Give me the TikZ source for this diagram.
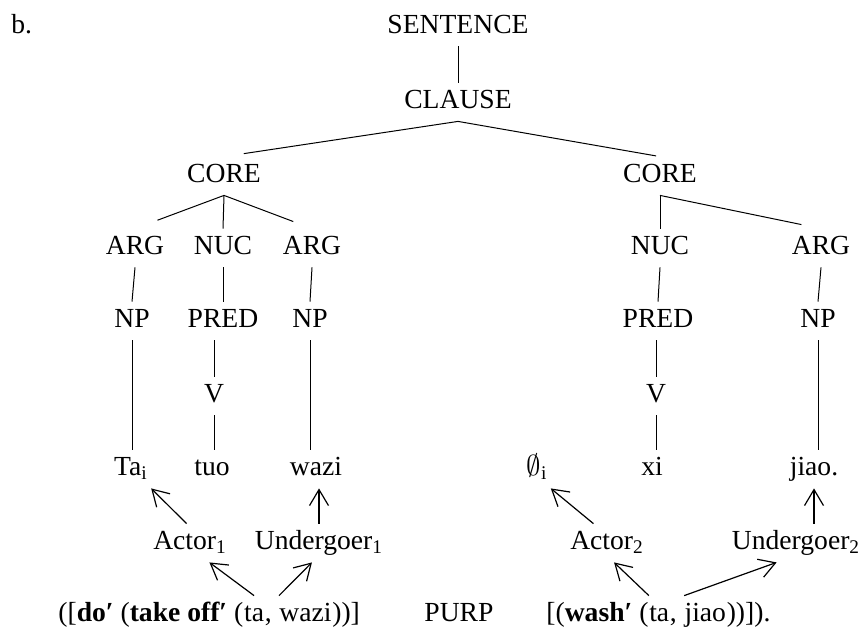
\documentclass[tikz,border=0pt]{standalone}
\usepackage{fontspec}
\setmainfont{Liberation Serif}
\usetikzlibrary{arrows.meta}

\tikzset{
  lbl/.style={anchor=base, inner xsep=1.5pt, inner ysep=3.5pt, text height=9pt, text depth=3pt},
  frag/.style={lbl, anchor=base west, inner xsep=0pt},
  branch/.style={line width=0.5pt},
  pointer/.style={line width=0.6pt, -{Straight Barb[length=8pt, width=9.5pt]}},
}

\begin{document}
\begin{tikzpicture}[x=0.5pt, y=-0.5pt, font=\fontsize{13.8}{16}\selectfont]
  \useasboundingbox (0,0) rectangle (861,628);

  % Upper layers
  \node[lbl, anchor=base west] (label) at (8,33) {b.};
  \node[lbl] (sentence) at (458,33) {SENTENCE};
  \node[lbl] (clause) at (458,108) {CLAUSE};
  \node[lbl] (core1) at (224,182) {CORE};
  \node[lbl] (core2) at (660,182) {CORE};

  % Arguments and nuclei
  \node[lbl] (arg1) at (135,254) {ARG};
  \node[lbl] (nuc1) at (223,254) {NUC};
  \node[lbl] (arg2) at (312,254) {ARG};
  \node[lbl] (nuc2) at (660,254) {NUC};
  \node[lbl] (arg3) at (821,254) {ARG};
  \node[lbl] (np1) at (132,327) {NP};
  \node[lbl] (pred1) at (223,327) {PRED};
  \node[lbl] (np2) at (310,327) {NP};
  \node[lbl] (pred2) at (658,327) {PRED};
  \node[lbl] (np3) at (818,327) {NP};
  \node[lbl] (v1) at (214,402) {V};
  \node[lbl] (v2) at (656,402) {V};

  % Words
  \node[lbl] (wTa) at (131,475) {Ta\textsubscript{i}};
  \node[lbl] (wTuo) at (212,475) {tuo};
  \node[lbl] (wWazi) at (316,475) {wazi};
  \node[lbl] (wZero) at (537,475) {$\emptyset$\textsubscript{i}};
  \node[lbl] (wXi) at (652,475) {xi};
  \node[lbl] (wJiao) at (814,475) {jiao.};

  % Macroroles
  \node[lbl] (actor1) at (190,549) {Actor\textsubscript{1}};
  \node[lbl] (under1) at (319,549) {Undergoer\textsubscript{1}};
  \node[lbl] (actor2) at (607,549) {Actor\textsubscript{2}};
  \node[lbl] (under2) at (796,549) {Undergoer\textsubscript{2}};

  % Logical structure
  \node[frag] (sem1) at (58,621) {([\textbf{do′} (\textbf{take off′} (};
  \node[frag] (semTa1) at (sem1.base east) {ta};
  \node[frag] (semC1) at (semTa1.base east) {,\kern0.25em};
  \node[frag] (semWazi) at (semC1.base east) {wazi};
  \node[frag] (semE1) at (semWazi.base east) {))]};
  \node[lbl, anchor=base west] (purp) at (421,621) {PURP};
  \node[frag] (sem2) at (546,621) {[(\textbf{wash′} (};
  \node[frag] (semTa2) at (sem2.base east) {ta};
  \node[frag] (semC2) at (semTa2.base east) {,\kern0.25em};
  \node[frag] (semJiao) at (semC2.base east) {jiao};
  \node[frag] (semE2) at (semJiao.base east) {))]).};

  % Branches
  \foreach \p/\c/\s in {clause/core1/10pt, clause/core2/2pt, core1/arg1/12pt,
      core1/arg2/10pt, core2/arg3/10pt}
    \draw[branch, shorten >=\s] (\p.south) -- (\c.north);
  \foreach \p/\c in {sentence/clause, core1/nuc1, core2/nuc2, arg1/np1,
      nuc1/pred1, arg2/np2, nuc2/pred2, arg3/np3}
    \draw[branch] (\p.south) -- (\c.north);
  \foreach \p/\c in {np1/wTa, np2/wWazi, np3/wJiao, v1/wTuo, v2/wXi}
    \draw[branch] (\p.south) -- (\p.south |- \c.north);
  \draw[branch] (v1.north |- pred1.south) -- (v1.north);
  \draw[branch] (v2.north |- pred2.south) -- (v2.north);

  % Linking arrows
  \draw[pointer] (actor1.100) -- (wTa.south east);
  \draw[pointer] (under1.north) -- (under1.north |- wWazi.south);
  \draw[pointer] (actor2.125) -- (wZero.south east);
  \draw[pointer] (wJiao.south |- under2.north) -- (wJiao.south);
  \draw[pointer] (semTa1.north) -- (actor1.-45);
  \draw[pointer] (semWazi.north west) -- (under1.-110);
  \draw[pointer] (semTa2.north west) -- (actor2.-70);
  \draw[pointer] (semJiao.north west) -- (under2.-135);
\end{tikzpicture}
\end{document}
